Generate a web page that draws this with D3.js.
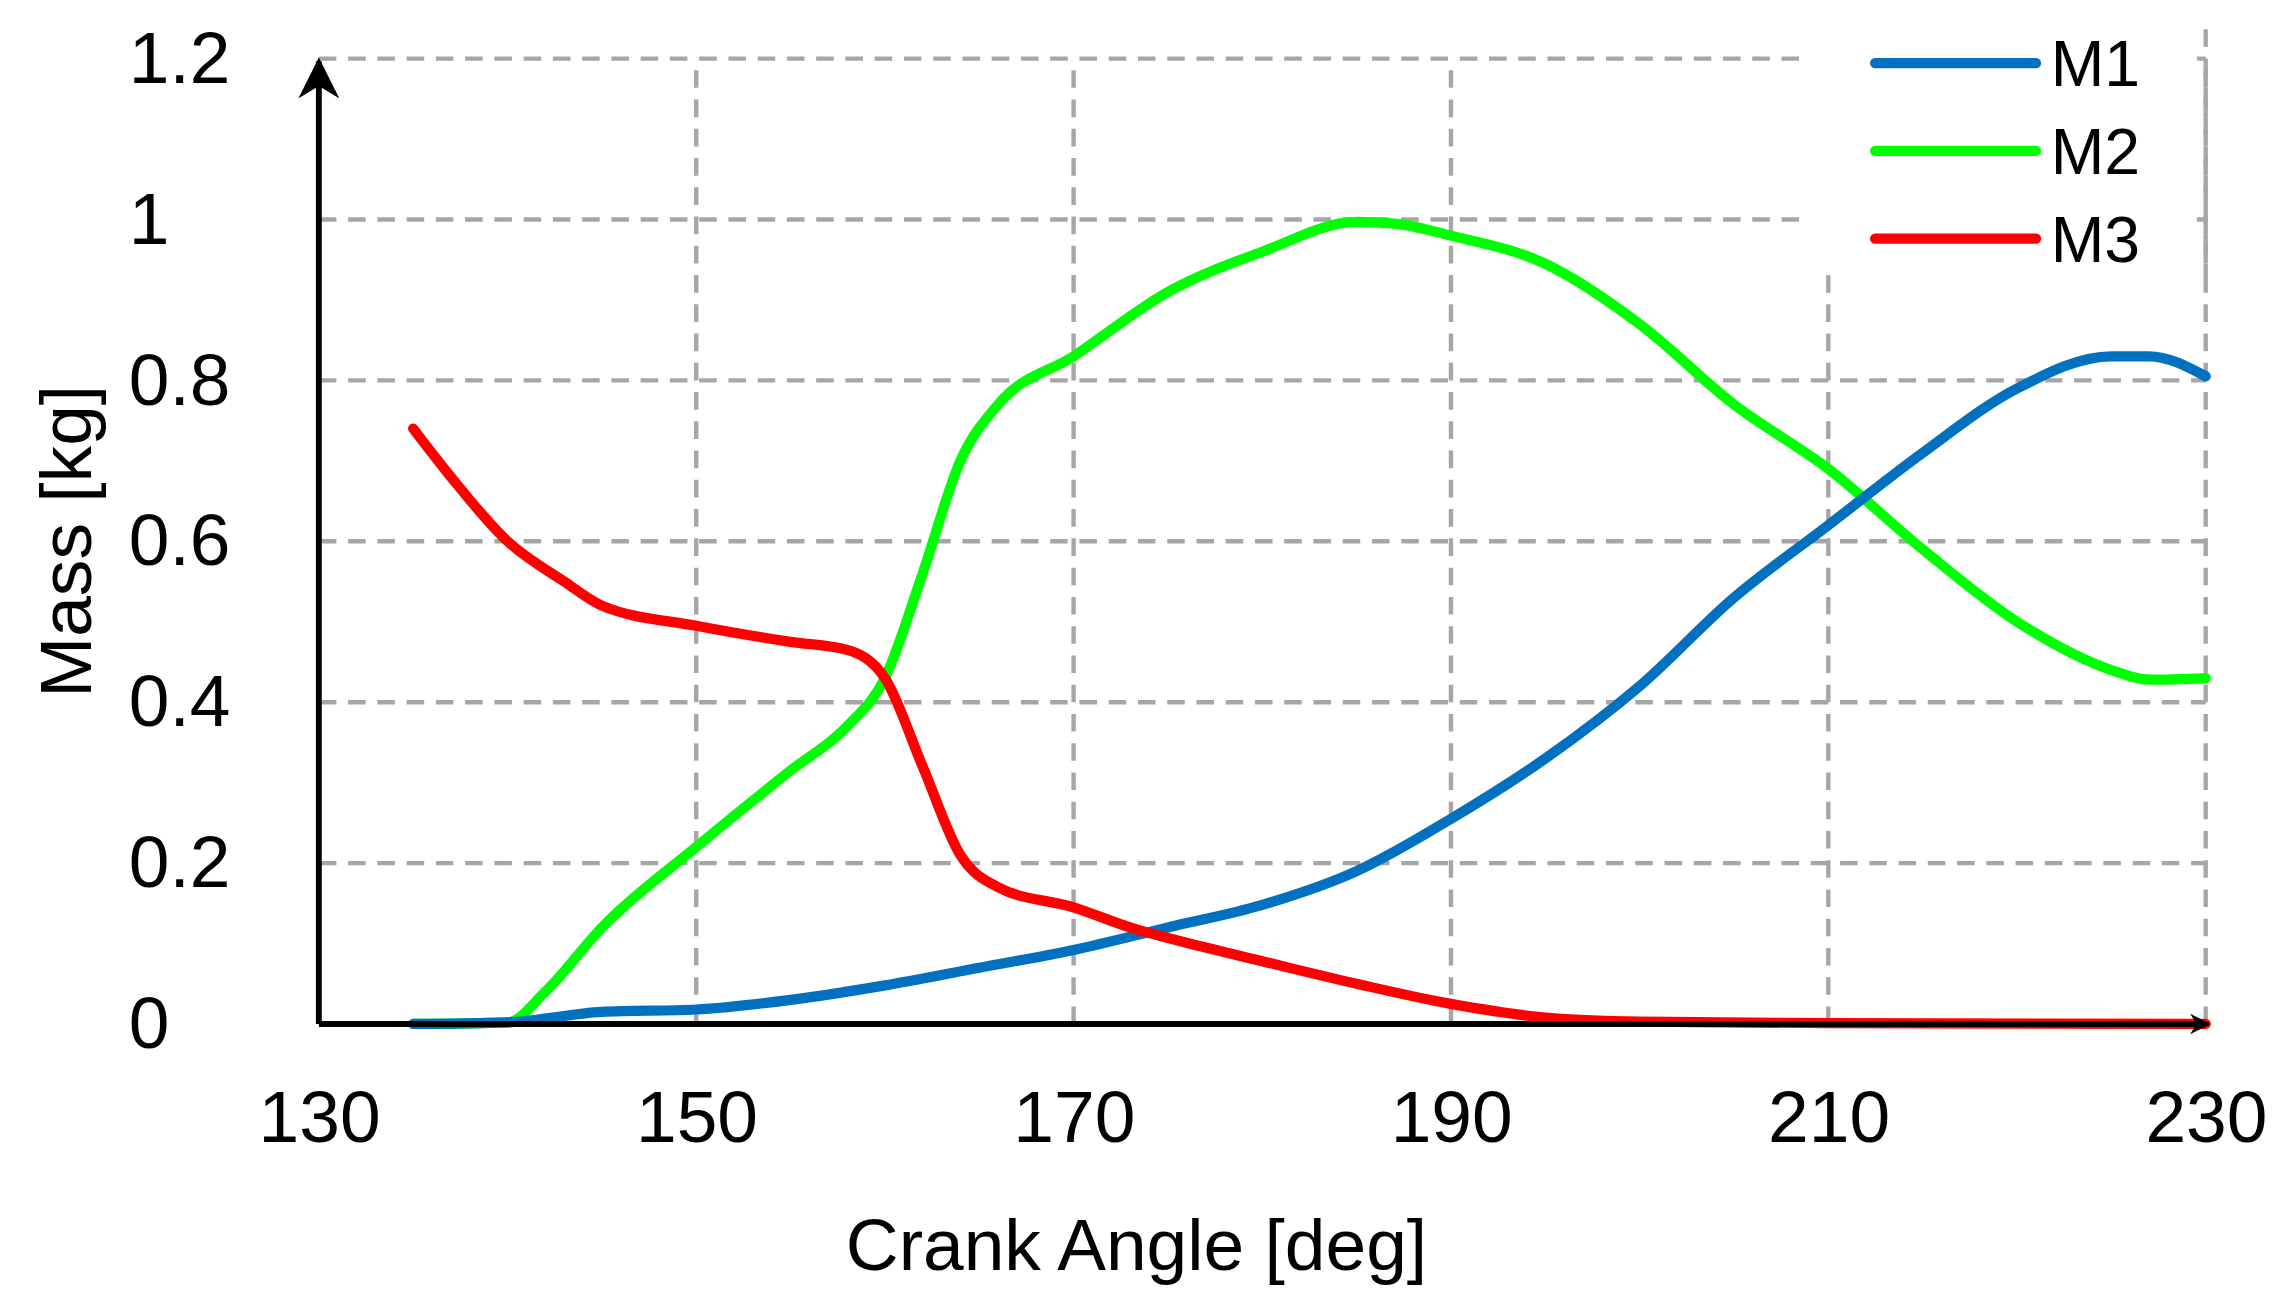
<!DOCTYPE html>
<html>
<head>
<meta charset="utf-8">
<script src="https://unpkg.com/d3@7/dist/d3.min.js"></script>
<style>
  body { margin: 0; background: #fff; }
  text { font-family: "Liberation Sans", Arial, sans-serif; }
</style>
</head>
<body>
<script>
// data
const angleM1 = [135, 140, 145, 150, 155, 160, 165, 170, 175, 180, 185, 190, 195, 200, 205, 210, 215, 220, 225, 227, 230];
const massM1 = [0, 0.002, 0.015, 0.018, 0.03, 0.048, 0.07, 0.092, 0.12, 0.148, 0.19, 0.255, 0.33, 0.42, 0.53, 0.62, 0.71, 0.79, 0.83, 0.83, 0.805];
const angleM2 = [135, 140, 142, 145, 150, 155, 158, 160, 162, 164, 166, 170, 175, 180, 185, 187, 190, 195, 200, 205, 210, 215, 220, 225, 227, 230];
const massM2 = [0, 0.002, 0.04, 0.12, 0.22, 0.315, 0.37, 0.43, 0.56, 0.7, 0.77, 0.83, 0.91, 0.96, 0.997, 0.995, 0.98, 0.945, 0.87, 0.77, 0.69, 0.59, 0.5, 0.44, 0.428, 0.43];
const angleM3 = [135, 137, 140, 143, 145, 150, 155, 158, 160, 162, 164, 166, 170, 173, 177, 180, 185, 190, 195, 200, 210, 230];
const massM3 = [0.74, 0.68, 0.6, 0.55, 0.52, 0.495, 0.475, 0.465, 0.43, 0.32, 0.21, 0.17, 0.145, 0.12, 0.095, 0.078, 0.05, 0.025, 0.008, 0.003, 0.001, 0];
const seriesNames = ["M1", "M2", "M3"];
const seriesColors = ["#0070c0", "#00ff00", "#ff0000"];
const xTicks = [130, 150, 170, 190, 210, 230];
const yTicks = [0, 0.2, 0.4, 0.6, 0.8, 1, 1.2];

const W = 1567, H = 890;
const svg = d3.select("body").append("svg")
  .attr("width", 2292).attr("height", 1302)
  .attr("viewBox", `0 0 ${W} ${H}`);

const x = d3.scaleLinear().domain([130, 230]).range([218, 1508]);
const y = d3.scaleLinear().domain([0, 1.2]).range([700, 40]);

// grid
const grid = svg.append("g").attr("stroke", "#a6a6a6").attr("stroke-width", 3)
  .attr("stroke-dasharray", "12,8").attr("fill", "none");
xTicks.slice(1).forEach(t => {
  grid.append("line").attr("x1", x(t)).attr("x2", x(t))
    .attr("y1", y(0)).attr("y2", y(1.2));
});
yTicks.slice(1).forEach(t => {
  grid.append("line").attr("x1", x(130)).attr("x2", x(230))
    .attr("y1", y(t)).attr("y2", y(t));
});

// axes
svg.append("defs").append("marker").attr("id", "arr")
  .attr("viewBox", "0 0 10 10").attr("refX", 9).attr("refY", 5)
  .attr("markerWidth", 7).attr("markerHeight", 7).attr("orient", "auto")
  .append("path").attr("d", "M0,0 L10,5 L0,10 L3,5 Z").attr("fill", "#000");
svg.append("line").attr("x1", x(130)).attr("x2", x(130))
  .attr("y1", y(0)).attr("y2", 42).attr("stroke", "#000").attr("stroke-width", 4)
  .attr("marker-end", "url(#arr)");

const yAxis = d3.axisLeft(y).tickValues(yTicks).tickSize(0).tickPadding(50)
  .tickFormat(d => String(d));
const gy = svg.append("g").attr("transform", `translate(${x(130)},0)`).call(yAxis);
gy.select(".domain").remove();
gy.selectAll("text").attr("font-size", 50).attr("fill", "#000")
  .attr("text-anchor", "start").attr("dx", 0).attr("x", -130);

const xAxis = d3.axisBottom(x).tickValues(xTicks).tickSize(0).tickPadding(45);
const gx = svg.append("g").attr("transform", `translate(0,${y(0)})`).call(xAxis);
gx.select(".domain").remove();
gx.selectAll("text").attr("font-size", 50).attr("fill", "#000");

svg.append("text").attr("x", 777).attr("y", 868).attr("text-anchor", "middle")
  .attr("font-size", 50).text("Crank Angle [deg]");
svg.append("text").attr("transform", "translate(62,370) rotate(-90)")
  .attr("text-anchor", "middle").attr("font-size", 50).text("Mass [kg]");

// lines
const series = [[angleM1, massM1], [angleM2, massM2], [angleM3, massM3]];
const line = d3.line().x(d => x(d[0])).y(d => y(d[1])).curve(d3.curveMonotoneX);
[1, 0, 2].forEach(i => {
  const pts = series[i][0].map((a, k) => [a, series[i][1][k]]);
  svg.append("path").datum(pts).attr("d", line).attr("fill", "none")
    .attr("stroke", seriesColors[i]).attr("stroke-width", 7).attr("stroke-linecap", "round");
});

svg.append("line").attr("x1", x(130)).attr("x2", x(230))
  .attr("y1", y(0)).attr("y2", y(0)).attr("stroke", "#000").attr("stroke-width", 4);
svg.append("line").attr("x1", x(228)).attr("x2", x(230) + 2)
  .attr("y1", y(0)).attr("y2", y(0)).attr("stroke", "#000").attr("stroke-width", 2)
  .attr("marker-end", "url(#arr)");

// legend
svg.append("rect").attr("x", 1230).attr("y", 20).attr("width", 272).attr("height", 168).attr("fill", "#fff");
svg.append("line").attr("x1", x(230)).attr("x2", x(230)).attr("y1", 20).attr("y2", 188)
  .attr("stroke", "#a6a6a6").attr("stroke-width", 3).attr("stroke-dasharray", "12,8");
seriesNames.forEach((n, i) => {
  const ly = 43 + i * 60;
  svg.append("line").attr("x1", 1282).attr("x2", 1392).attr("y1", ly).attr("y2", ly)
    .attr("stroke", seriesColors[i]).attr("stroke-width", 7).attr("stroke-linecap", "round");
  svg.append("text").attr("x", 1402).attr("y", ly + 16).attr("font-size", 44).text(n);
});
</script>
</body>
</html>
